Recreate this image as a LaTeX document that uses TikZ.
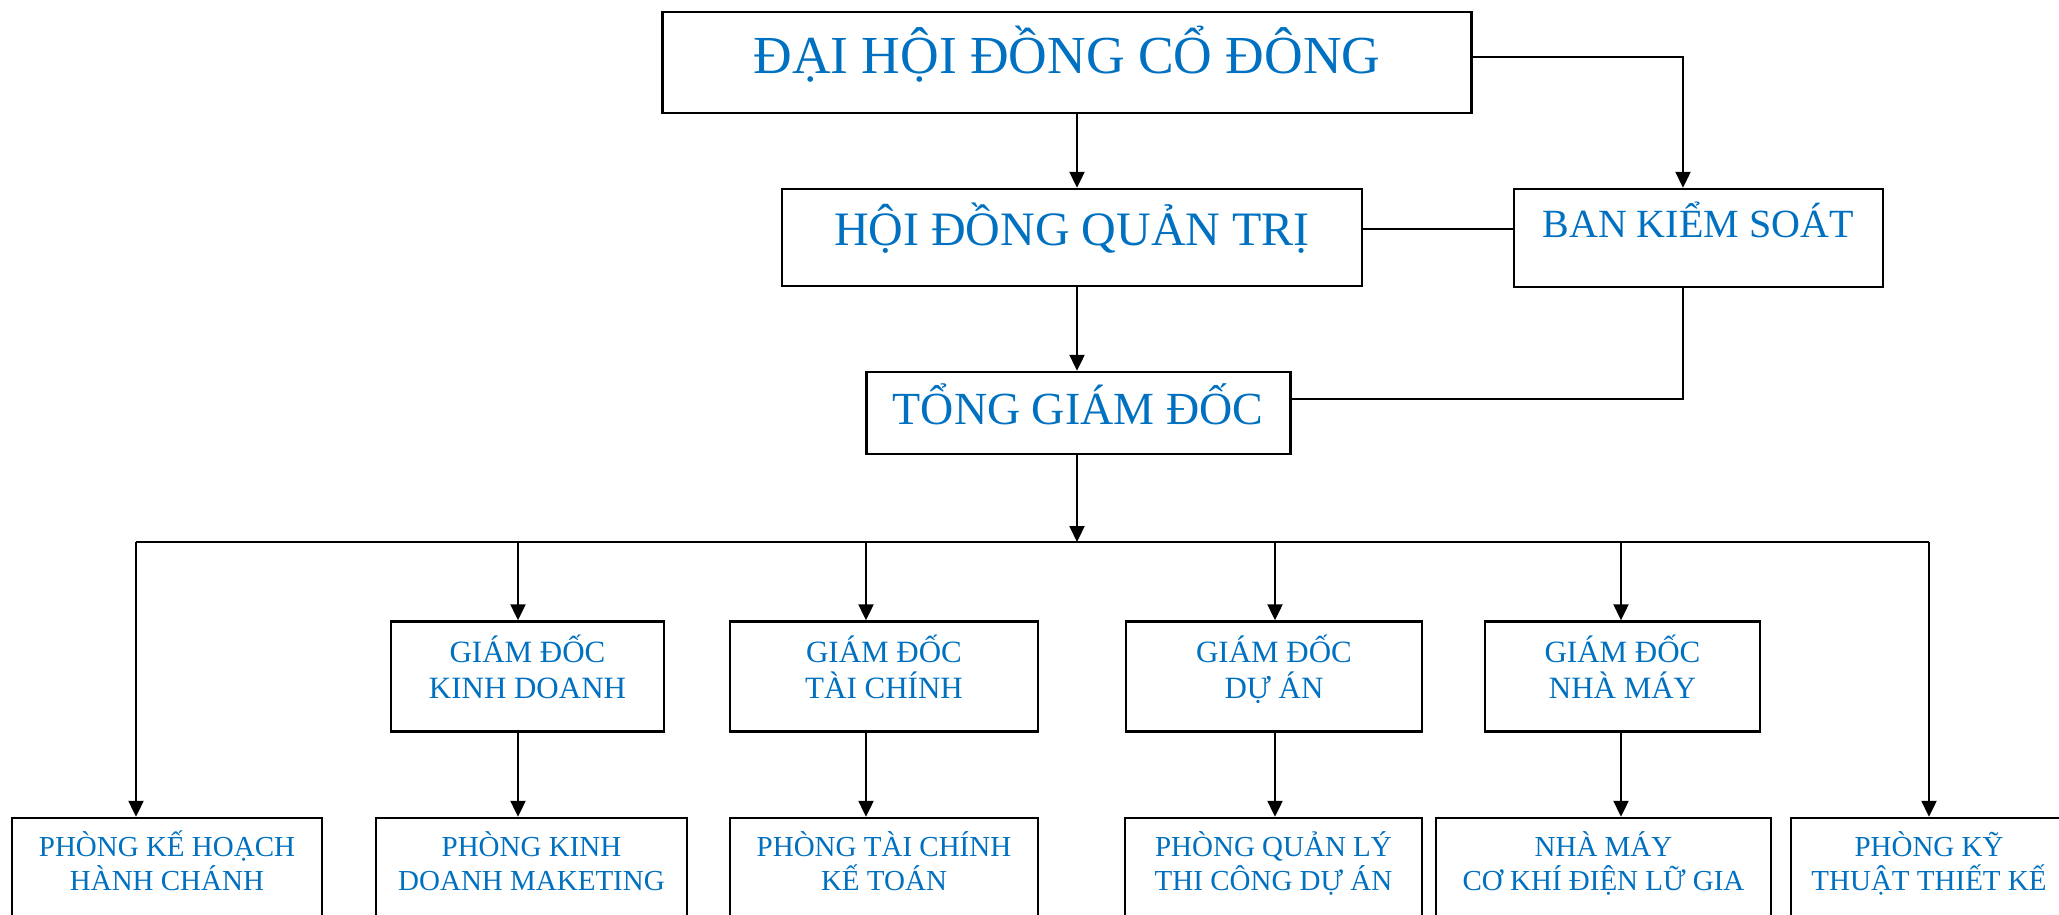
\documentclass[tikz,border=0pt]{standalone}
\usepackage{fontspec}
\setmainfont{Liberation Serif}
\usetikzlibrary{arrows.meta}
\definecolor{txtblue}{RGB}{0,112,192}
\begin{document}
\begin{tikzpicture}[x=1pt,y=-1pt,
  box/.style={draw=black, line width=2.4pt, rectangle, inner sep=0pt},
  conn/.style={draw=black, line width=2.1pt},
  arr/.style={conn, -{Triangle[length=16pt,width=15pt]}},
  lbl/.style={text=txtblue, align=center, inner sep=0pt, anchor=base},
  tbig/.style={lbl, font=\fontsize{53.5}{60}\selectfont},
  tmid/.style={lbl, font=\fontsize{48}{54}\selectfont},
  tbks/.style={lbl, font=\fontsize{40}{46}\selectfont},
  ttgd/.style={lbl, font=\fontsize{46}{52}\selectfont},
  tgd/.style={lbl, font=\fontsize{31}{36}\selectfont},
  tph/.style={lbl, font=\fontsize{29}{34}\selectfont}
]
\useasboundingbox (0,0) rectangle (2059,914);
\clip (0,0) rectangle (2059,914);
\fill[white] (0,0) rectangle (2059,914);

% boxes
\node[box, minimum width=809pt, minimum height=101pt] (dh) at (1067,62.5) {};
\node[box, minimum width=580pt, minimum height=97pt] (hd) at (1072,237.5) {};
\node[box, minimum width=369pt, minimum height=98pt] (bk) at (1698.5,238) {};
\node[box, minimum width=424pt, minimum height=82pt] (tg) at (1078.5,413) {};

\node[box, minimum width=273pt, minimum height=110pt] (gkd) at (527.5,676.5) {};
\node[box, minimum width=308pt, minimum height=110pt] (gtc) at (884,676.5) {};
\node[box, minimum width=296pt, minimum height=110pt] (gda) at (1274,676.5) {};
\node[box, minimum width=275pt, minimum height=110pt] (gnm) at (1622.5,676.5) {};

\node[box, minimum width=310pt, minimum height=120pt] (pkh) at (167,878) {};
\node[box, minimum width=311pt, minimum height=120pt] (pkd) at (531.5,878) {};
\node[box, minimum width=308pt, minimum height=120pt] (ptc) at (884,878) {};
\node[box, minimum width=297pt, minimum height=120pt] (pql) at (1273.5,878) {};
\node[box, minimum width=335pt, minimum height=120pt] (pnm) at (1603.5,878) {};
\node[box, minimum width=276pt, minimum height=120pt] (pkt) at (1929,878) {};

% texts (multi-line nodes: base = last line's baseline)
\node[tbig] (dht) at (1067,73) {ĐẠI HỘI ĐỒNG CỔ ĐÔNG};
\node[tmid] (hdt) at (1072,245) {HỘI ĐỒNG QUẢN TRỊ};
\node[tbks] (bkt) at (1698,237) {BAN KIỂM SOÁT};
\node[ttgd] (tgt) at (1078,424) {TỔNG GIÁM ĐỐC};

\node[tgd] (gkdt) at (527.5,698) {GIÁM ĐỐC\\KINH DOANH};
\node[tgd] (gtct) at (884,698) {GIÁM ĐỐC\\TÀI CHÍNH};
\node[tgd] (gdat) at (1274,698) {GIÁM ĐỐC\\DỰ ÁN};
\node[tgd] (gnmt) at (1622.5,698) {GIÁM ĐỐC\\NHÀ MÁY};

\node[tph] (pkht) at (167,890) {PHÒNG KẾ HOẠCH\\HÀNH CHÁNH};
\node[tph] (pkdt) at (531.5,890) {PHÒNG KINH\\DOANH MAKETING};
\node[tph] (ptct) at (884,890) {PHÒNG TÀI CHÍNH\\KẾ TOÁN};
\node[tph] (pqlt) at (1273.5,890) {PHÒNG QUẢN LÝ\\THI CÔNG DỰ ÁN};
\node[tph] (pnmt) at (1603.5,890) {NHÀ MÁY\\CƠ KHÍ ĐIỆN LỮ GIA};
\node[tph] (pktt) at (1929,890) {PHÒNG KỸ\\THUẬT THIẾT KẾ};

% helper coordinates
\coordinate (ax) at (1077,0);
\coordinate (kx) at (1683,57);
\coordinate (hy) at (0,229);
\coordinate (ty) at (0,399);
\coordinate (b1) at (136,542);
\coordinate (b2) at (518,542);
\coordinate (b3) at (866,542);
\coordinate (b4) at (1275,542);
\coordinate (b5) at (1621,542);
\coordinate (b6) at (1929,542);
\coordinate (bm) at (1077,542);

% connectors
\draw[arr] (dh.south -| ax) -- (hd.north -| ax);
\draw[arr] (dh.east |- kx) -| (bk.north -| kx);
\draw[conn] (hd.east |- hy) -- (bk.west |- hy);
\draw[conn] (bk.south -| kx) |- (tg.east |- ty);
\draw[arr] (hd.south -| ax) -- (tg.north -| ax);
\draw[arr] (tg.south -| ax) -- (bm);
\draw[conn] (b1) -- (b6);

\draw[arr] (b1) -- (pkh.north -| b1);
\draw[arr] (b2) -- (gkd.north -| b2);
\draw[arr] (b3) -- (gtc.north -| b3);
\draw[arr] (b4) -- (gda.north -| b4);
\draw[arr] (b5) -- (gnm.north -| b5);
\draw[arr] (b6) -- (pkt.north -| b6);

\draw[arr] (gkd.south -| b2) -- (pkd.north -| b2);
\draw[arr] (gtc.south -| b3) -- (ptc.north -| b3);
\draw[arr] (gda.south -| b4) -- (pql.north -| b4);
\draw[arr] (gnm.south -| b5) -- (pnm.north -| b5);
\end{tikzpicture}
\end{document}
